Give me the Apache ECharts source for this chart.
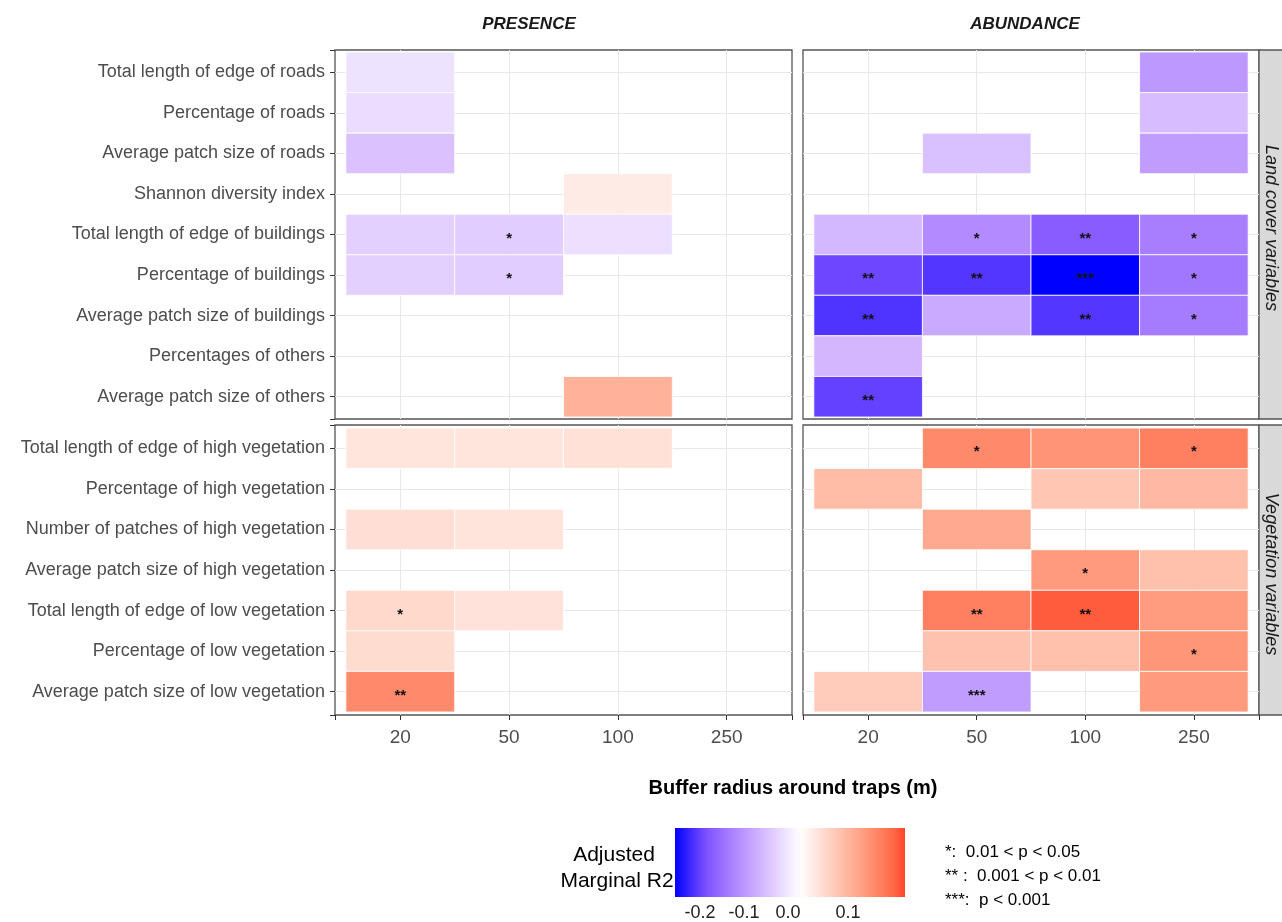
<!DOCTYPE html>
<html>
<head>
<meta charset="utf-8">
<script src="https://cdn.jsdelivr.net/npm/echarts@6/dist/echarts.min.js"></script>
<style>
  html, body { margin: 0; padding: 0; background: #fff; }
  #chart { width: 1282px; height: 922px; }
</style>
</head>
<body>
<div id="chart"></div>
<script>
const radii = ['20', '50', '100', '250'];
const landRows = [
  'Total length of edge of roads', 'Percentage of roads', 'Average patch size of roads',
  'Shannon diversity index', 'Total length of edge of buildings', 'Percentage of buildings',
  'Average patch size of buildings', 'Percentages of others', 'Average patch size of others'
];
const vegRows = [
  'Total length of edge of high vegetation', 'Percentage of high vegetation',
  'Number of patches of high vegetation', 'Average patch size of high vegetation',
  'Total length of edge of low vegetation', 'Percentage of low vegetation',
  'Average patch size of low vegetation'
];

// adjusted marginal R2 (rows = variables, columns = buffer radius)
const presenceLand = [
  [-0.028, null, null, null],
  [-0.034, null, null, null],
  [-0.061, null, null, null],
  [null, null, 0.024, null],
  [-0.047, -0.050, -0.032, null],
  [-0.047, -0.050, null, null],
  [null, null, null, null],
  [null, null, null, null],
  [null, null, 0.094, null]
];
const presenceLandSig = [
  ['', '', '', ''], ['', '', '', ''], ['', '', '', ''], ['', '', '', ''],
  ['', '*', '', ''], ['', '*', '', ''], ['', '', '', ''], ['', '', '', ''], ['', '', '', '']
];
const abundanceLand = [
  [null, null, null, -0.105],
  [null, null, null, -0.067],
  [null, -0.063, null, -0.100],
  [null, null, null, null],
  [-0.071, -0.119, -0.166, -0.131],
  [-0.185, -0.197, -0.236, -0.138],
  [-0.199, -0.086, -0.197, -0.133],
  [-0.073, null, null, null],
  [-0.189, null, null, null]
];
const abundanceLandSig = [
  ['', '', '', ''], ['', '', '', ''], ['', '', '', ''], ['', '', '', ''],
  ['', '*', '**', '*'], ['**', '**', '***', '*'], ['**', '', '**', '*'],
  ['', '', '', ''], ['**', '', '', '']
];
const presenceVeg = [
  [0.032, 0.032, 0.037, null],
  [null, null, null, null],
  [0.039, 0.033, null, null],
  [null, null, null, null],
  [0.047, 0.034, null, null],
  [0.043, null, null, null],
  [0.140, null, null, null]
];
const presenceVegSig = [
  ['', '', '', ''], ['', '', '', ''], ['', '', '', ''], ['', '', '', ''],
  ['*', '', '', ''], ['', '', '', ''], ['**', '', '', '']
];
const abundanceVeg = [
  [null, 0.140, 0.129, 0.151],
  [0.082, null, 0.070, 0.087],
  [null, 0.104, null, null],
  [null, null, 0.122, 0.077],
  [null, 0.151, 0.184, 0.120],
  [null, 0.075, 0.077, 0.127],
  [0.064, -0.100, null, 0.122]
];
const abundanceVegSig = [
  ['', '*', '', '*'], ['', '', '', ''], ['', '', '', ''], ['', '', '*', ''],
  ['', '**', '**', ''], ['', '', '', '*'], ['', '***', '', '']
];

const legendTicks = ['-0.2', '-0.1', '0.0', '0.1'];
const sigNotes = ['*:  0.01 < p < 0.05', '** :  0.001 < p < 0.01', '***:  p < 0.001'];

// blue - white - red, interpolated in Lab like scale_fill_gradient2
const ramp = ['#0000FF', '#7E51FF', '#B48BFF', '#DCC4FF', '#FFFFFF',
              '#FFCFBF', '#FF9E81', '#FF6846', '#FF0000'];
const M = 0.236;
const FONT = "'Liberation Sans', Arial, sans-serif";

const chart = echarts.init(document.getElementById('chart'));

const cols = [{left: 335, width: 457}, {left: 803, width: 456}];
const rowsPos = [{top: 50, height: 369, pad: 0.55}, {top: 425, height: 290, pad: 0.575}];

const panels = [
  {c: 0, r: 0, names: landRows, vals: presenceLand, sig: presenceLandSig},
  {c: 1, r: 0, names: landRows, vals: abundanceLand, sig: abundanceLandSig},
  {c: 0, r: 1, names: vegRows, vals: presenceVeg, sig: presenceVegSig},
  {c: 1, r: 1, names: vegRows, vals: abundanceVeg, sig: abundanceVegSig}
];

function isInt(v) {
  return Math.abs(v - Math.round(v)) < 1e-6;
}

const grids = [], xAxes = [], yAxes = [], series = [];
panels.forEach(function (p, i) {
  const cx = cols[p.c], ry = rowsPos[p.r];
  grids.push({
    left: cx.left, width: cx.width, top: ry.top, height: ry.height,
    show: true, borderColor: '#555', borderWidth: 1.3, backgroundColor: 'transparent'
  });
  xAxes.push({
    type: 'value', gridIndex: i, min: -0.6, max: 3.6, minInterval: 1, maxInterval: 1,
    axisLine: {show: false, onZero: false},
    axisTick: {show: p.r === 1, length: 5, lineStyle: {color: '#333'}},
    axisLabel: {
      show: p.r === 1, margin: 13, color: '#4D4D4D', fontSize: 19, fontFamily: FONT,
      formatter: function (v) { return isInt(v) && v >= 0 && v < 4 ? radii[Math.round(v)] : ''; }
    },
    splitLine: {show: true, showMinLine: false, showMaxLine: false, lineStyle: {color: '#E8E8E8', width: 1}}
  });
  yAxes.push({
    type: 'value', gridIndex: i, inverse: true,
    min: -ry.pad, max: p.names.length - 1 + ry.pad, minInterval: 1, maxInterval: 1,
    axisLine: {show: false, onZero: false},
    axisTick: {show: p.c === 0, length: 5, lineStyle: {color: '#333'}},
    axisLabel: {
      show: p.c === 0, margin: 10, color: '#4D4D4D', fontSize: 18, fontFamily: FONT,
      formatter: function (v) {
        const k = Math.round(v);
        return isInt(v) && k >= 0 && k < p.names.length ? p.names[k] : '';
      }
    },
    splitLine: {show: true, showMinLine: false, showMaxLine: false, lineStyle: {color: '#E8E8E8', width: 1}}
  });

  const cells = [];
  p.vals.forEach(function (row, r) {
    row.forEach(function (v, c) {
      if (v !== null) cells.push([c, r, v, p.sig[r][c]]);
    });
  });
  series.push({
    type: 'custom', xAxisIndex: i, yAxisIndex: i,
    dimensions: ['x', 'y', 'r2'],
    encode: {x: 0, y: 1},
    data: cells.map(function (d) { return [d[0], d[1], d[2]]; }),
    renderItem: function (params, api) {
      const pt = api.coord([api.value(0), api.value(1)]);
      const sz = api.size([1, 1]);
      return {
        type: 'group',
        children: [
          {
            type: 'rect',
            shape: {x: pt[0] - sz[0] / 2, y: pt[1] - sz[1] / 2, width: sz[0], height: sz[1]},
            style: {fill: api.visual('color'), stroke: '#fff', lineWidth: 0.8}
          },
          {
            type: 'text', x: pt[0], y: pt[1] + 4,
            style: {
              text: cells[params.dataIndex][3], fill: '#111',
              font: 'bold 15px ' + FONT, align: 'center', verticalAlign: 'middle'
            }
          }
        ]
      };
    }
  });
});

// colour bar of the legend (same mapping as the tiles)
const barLo = -0.236, barHi = 0.198;
const barStops = [];
for (let k = 0; k <= 40; k++) {
  const v = barLo + (barHi - barLo) * k / 40;
  barStops.push({offset: k / 40, color: echarts.color.lerp((v + M) / (2 * M), ramp)});
}
const tickX = [700, 744, 788, 848];

const graphics = [
  {type: 'text', x: 529, y: 24, style: {text: 'PRESENCE', font: 'italic bold 17px ' + FONT, fill: '#1A1A1A', align: 'center', verticalAlign: 'middle'}},
  {type: 'text', x: 1025, y: 24, style: {text: 'ABUNDANCE', font: 'italic bold 17px ' + FONT, fill: '#1A1A1A', align: 'center', verticalAlign: 'middle'}},
  {type: 'rect', shape: {x: 1259, y: 50, width: 30, height: 369}, style: {fill: '#D9D9D9', stroke: '#555', lineWidth: 1.3}},
  {type: 'rect', shape: {x: 1259, y: 425, width: 30, height: 290}, style: {fill: '#D9D9D9', stroke: '#555', lineWidth: 1.3}},
  {type: 'text', x: 1271, y: 228, rotation: -Math.PI / 2, style: {text: 'Land cover variables', font: 'italic 18px ' + FONT, fill: '#1A1A1A', align: 'center', verticalAlign: 'middle'}},
  {type: 'text', x: 1271, y: 574, rotation: -Math.PI / 2, style: {text: 'Vegetation variables', font: 'italic 18px ' + FONT, fill: '#1A1A1A', align: 'center', verticalAlign: 'middle'}},
  {type: 'text', x: 793, y: 788, style: {text: 'Buffer radius around traps (m)', font: 'bold 20px ' + FONT, fill: '#000', align: 'center', verticalAlign: 'middle'}},
  {type: 'text', x: 614, y: 855, style: {text: 'Adjusted', font: '21px ' + FONT, fill: '#000', align: 'center', verticalAlign: 'middle'}},
  {type: 'text', x: 617, y: 881, style: {text: 'Marginal R2', font: '21px ' + FONT, fill: '#000', align: 'center', verticalAlign: 'middle'}},
  {type: 'rect', shape: {x: 675, y: 828, width: 230, height: 69}, style: {fill: new echarts.graphic.LinearGradient(0, 0, 1, 0, barStops)}}
];
legendTicks.forEach(function (t, k) {
  graphics.push({type: 'text', x: tickX[k], y: 913, style: {text: t, font: '18px ' + FONT, fill: '#222', align: 'center', verticalAlign: 'middle'}});
});
sigNotes.forEach(function (t, k) {
  graphics.push({type: 'text', x: 945, y: 852 + k * 24, style: {text: t, font: '17px ' + FONT, fill: '#000', align: 'left', verticalAlign: 'middle'}});
});

const option = {
  animation: false,
  backgroundColor: '#fff',
  grid: grids,
  xAxis: xAxes,
  yAxis: yAxes,
  visualMap: {
    type: 'continuous', show: false, min: -M, max: M, dimension: 2,
    seriesIndex: [0, 1, 2, 3], inRange: {color: ramp}
  },
  series: series,
  graphic: graphics
};

chart.setOption(option);

window.addEventListener('resize', function () {
  chart.resize();
});
</script>
</body>
</html>
